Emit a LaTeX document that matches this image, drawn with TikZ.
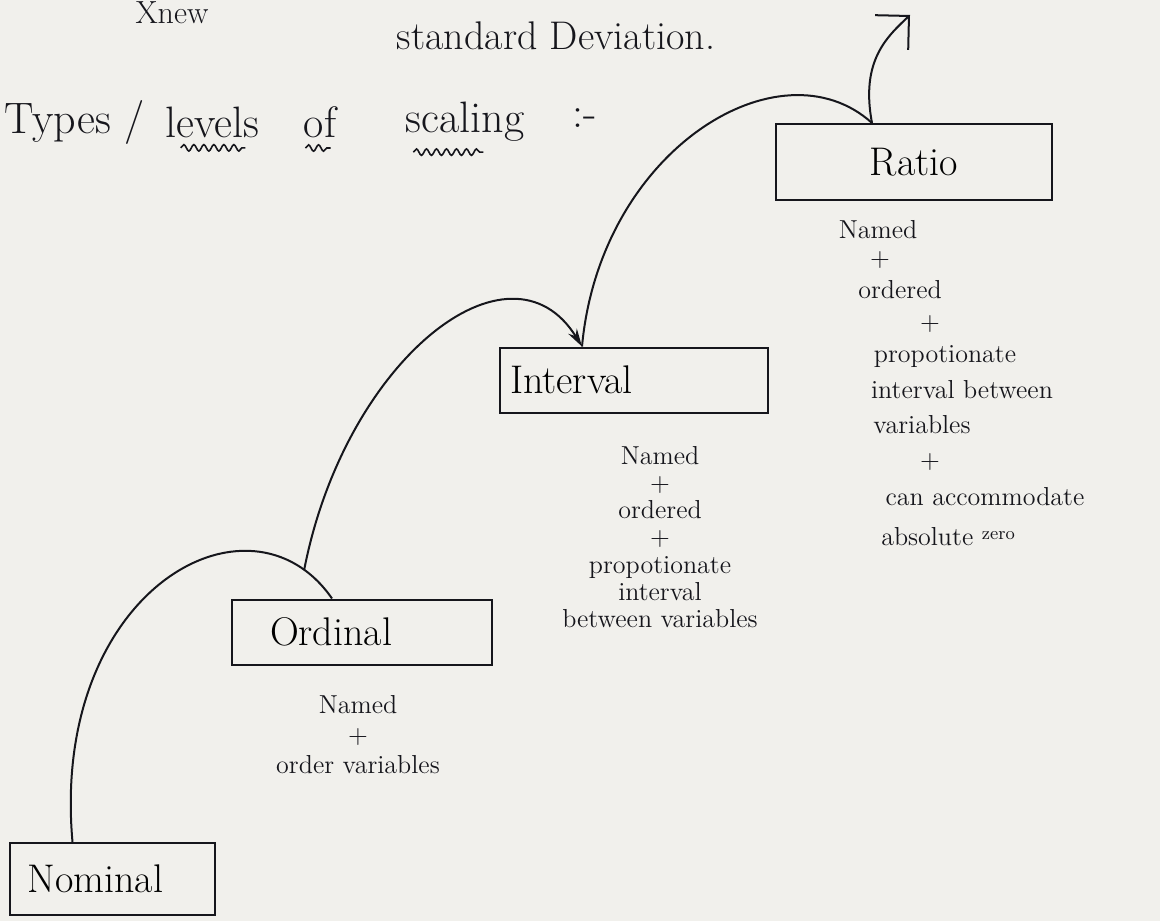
\documentclass[tikz,border=0pt]{standalone}
\usepackage{tikz}
\usetikzlibrary{arrows.meta,positioning,calc,decorations.pathmorphing}

\definecolor{paper}{RGB}{241,240,236}
\definecolor{ink}{RGB}{22,22,28}

\tikzset{
  levelbox/.style={draw=ink, line width=1pt, rectangle, minimum height=#1, align=left, font=\fontsize{20}{24}\selectfont},
  note/.style={text=ink, align=center, inner sep=1pt, font=\fontsize{13}{15}\selectfont},
  title/.style={text=ink, inner sep=1pt, font=\fontsize{22}{26}\selectfont},
  flow/.style={draw=ink, line width=1pt},
  squiggle/.style={draw=ink, line width=0.8pt, decorate, decoration={snake, amplitude=1.6pt, segment length=5pt}},
}

\begin{document}
\begin{tikzpicture}[x=0.5pt,y=0.5pt,yscale=-1]
%page of 1160 x 921
\clip (0,0) rectangle (1160,921);
\fill[paper] (0,0) rectangle (1160,921);

% Text Node
\node[text=ink, inner sep=1pt, font=\fontsize{16}{18}\selectfont] (xnew) at (172,13) {Xnew};
% Text Node
\node[text=ink, font=\fontsize{20}{24}\selectfont] (stddev) at (556,36) {standard Deviation.};

% Title words
\node[title, anchor=west] (ttypes) at (2,122) {Types /};
\node[title] (tlevels) at (212,122) {levels};
\node[title] (tof) at (320,122) {of};
\node[title] (tscaling) at (465,122) {scaling};
\node[title] (tcolon) at (585,118) {:-};

%Wavy underlines
\draw[squiggle] ($(tlevels.south west)+(18,8)$) -- ($(tlevels.south east)+(-16,8)$);
\draw[squiggle] ($(tof.south west)+(4,8)$) -- ($(tof.south east)+(-8,8)$);
\draw[squiggle] ($(tscaling.south west)+(10,8)$) -- ($(tscaling.south west)+(80,8)$);

%Shape: Rectangle  (the four levels)
\node[levelbox=36pt, text width=84.5pt, inner xsep=9pt] (nominal) at (112,879) {Nominal};
\node[levelbox=32.5pt, text width=92pt, inner xsep=19pt] (ordinal) at (362,632) {Ordinal};
\node[levelbox=32.5pt, text width=124pt, inner xsep=5pt] (interval) at (634,380) {Interval};
\node[levelbox=38pt, text width=126pt, inner xsep=6pt, align=center] (ratio) at (914,162) {Ratio};

%Where the curves meet the boxes
\coordinate (nomtop) at ($(nominal.north west)+(64,0)$);
\coordinate (ordtop) at ($(ordinal.north west)+(101,0)$);
\coordinate (inttop) at ($(interval.north west)+(83,0)$);
\coordinate (rattop) at ($(ratio.north west)+(97,0)$);
\coordinate (arrtip) at (910,15);

%Curve Lines
\draw[flow] (nomtop) .. controls (50,590) and (250,480) .. (ordtop) coordinate[pos=0.9] (branch);
\draw[flow, -{Stealth[length=9pt,width=5pt]}] (branch) .. controls (345,360) and (510,230) .. (inttop);
\draw[flow] (inttop) .. controls (600,150) and (780,40) .. (rattop);
\draw[flow, -{Straight Barb[length=12pt,width=24pt]}] (rattop) .. controls (860,60) and (888,36) .. (arrtip);

% Text Node
\node[note] (ordnote) at (358,735) {Named\\+\\order variables};
% Text Node
\node[note, font=\fontsize{13}{13.6}\selectfont] (intnote) at (660,537) {Named\\+\\ordered\\+\\propotionate\\interval\\between variables};

% Text Nodes (staggered lines under Ratio)
\foreach \px/\py/\txt in {878/230/Named, 880/260/+, 900/290/ordered, 930/324/+, 945/357/propotionate,
    962/390/interval between, 922/425/variables, 930/462/+, 985/497/can accommodate,
    948/537/{absolute \raisebox{3pt}{\fontsize{9}{9}\selectfont zero}}}
  \node[note] (ratnote\py) at (\px,\py) {\txt};

\end{tikzpicture}
\end{document}
